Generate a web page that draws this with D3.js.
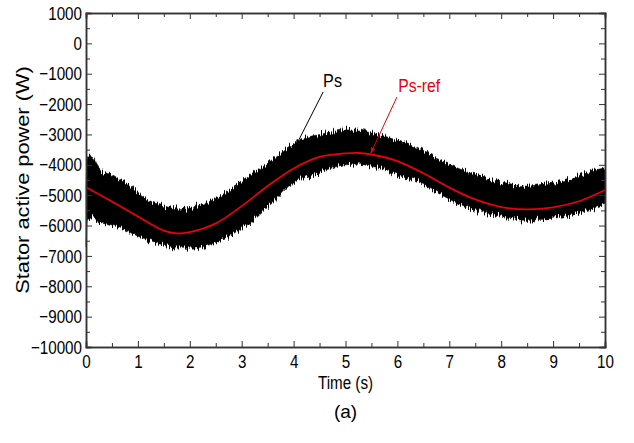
<!DOCTYPE html>
<html>
<head>
<meta charset="utf-8">
<script src="https://cdn.jsdelivr.net/npm/d3@7"></script>
<style>
  body { margin: 0; background: #fff; }
  svg text { font-family: "Liberation Sans", Arial, sans-serif; }
</style>
</head>
<body>
<svg id="chart" width="634" height="443"></svg>
<script>
const width = 634;
const height = 443;

// reference power Ps-ref (W)
const refTime = [0, 0.5, 1, 1.5, 1.75, 2, 2.5, 3, 3.5, 4, 4.5, 5, 5.25, 5.5, 6, 6.5, 7, 7.5, 8, 8.5, 9, 9.5, 10];
const refPower = [-4740, -5210, -5700, -6170, -6260, -6220, -5930, -5360, -4700, -4120, -3740, -3625, -3610, -3660, -3880, -4280, -4750, -5140, -5390, -5470, -5400, -5200, -4830];

// measured Ps: upper and lower edge of the noisy band (W)
const psTime = [0, 0.03, 0.12, 0.25, 0.5, 0.75, 1, 1.25, 1.5, 1.75, 2, 2.25, 2.5, 2.75, 3, 3.25, 3.5, 3.75, 4, 4.25, 4.5, 4.75, 5, 5.25, 5.5, 5.75, 6, 6.25, 6.5, 6.75, 7, 7.25, 7.5, 7.75, 8, 8.25, 8.5, 8.75, 9, 9.25, 9.5, 9.75, 10];
const psUpper = [-4700, -3700, -3750, -4100, -4350, -4600, -4900, -5200, -5350, -5450, -5400, -5300, -5100, -4850, -4550, -4250, -3950, -3600, -3300, -3100, -3000, -2900, -2850, -2850, -2950, -3050, -3200, -3350, -3550, -3780, -3980, -4170, -4330, -4460, -4560, -4650, -4700, -4650, -4600, -4500, -4350, -4200, -4100];
const psLower = [-6700, -5800, -5750, -5850, -5980, -6150, -6350, -6500, -6650, -6750, -6750, -6700, -6550, -6350, -6100, -5800, -5400, -5000, -4600, -4400, -4250, -4100, -4000, -3980, -4050, -4150, -4300, -4450, -4650, -4900, -5130, -5330, -5500, -5630, -5730, -5790, -5830, -5800, -5760, -5700, -5600, -5450, -5300];

const xTicks = [0, 1, 2, 3, 4, 5, 6, 7, 8, 9, 10];
const yTicks = [1000, 0, -1000, -2000, -3000, -4000, -5000, -6000, -7000, -8000, -9000, -10000];

const margin = { left: 86, right: 29, top: 13, bottom: 96 };
const squeeze = 0.8; // the figure's lettering is narrow and tall
const red = "#e8000b";

function drawChart() {
    const svg = d3.select("#chart");
    const x = d3.scaleLinear().domain([0, 10]).range([margin.left, width - margin.right]);
    const y = d3.scaleLinear().domain([-10000, 1000]).range([height - margin.bottom, margin.top]);

    const refData = refTime.map((t, i) => ({ t: t, v: refPower[i] }));
    const psData = psTime.map((t, i) => ({ t: t, hi: psUpper[i], lo: psLower[i] }));

    const defs = svg.append("defs");
    // roughen the edge of the Ps band so it looks like the dense ripple
    const rough = defs.append("filter").attr("id", "rough")
        .attr("x", "-2%").attr("y", "-15%").attr("width", "104%").attr("height", "130%");
    rough.append("feTurbulence").attr("type", "fractalNoise")
        .attr("baseFrequency", "0.75 0.03").attr("numOctaves", 2).attr("seed", 4).attr("result", "noise");
    rough.append("feColorMatrix").attr("in", "noise").attr("type", "matrix")
        .attr("values", "1 0 0 0 0  0 0 0 0 0.5  0 0 0 0 0  0 0 0 0 1").attr("result", "vnoise");
    rough.append("feDisplacementMap").attr("in", "SourceGraphic").attr("in2", "vnoise")
        .attr("scale", 14).attr("xChannelSelector", "G").attr("yChannelSelector", "R");

    // noisy Ps band
    const band = d3.area()
        .x(d => x(d.t))
        .y0(d => y(d.lo))
        .y1(d => y(d.hi))
        .curve(d3.curveMonotoneX);
    svg.append("path")
        .datum(psData)
        .attr("d", band)
        .attr("fill", "#000")
        .attr("stroke", "#000")
        .attr("stroke-width", 0.5)
        .attr("filter", "url(#rough)");

    // Ps-ref
    const line = d3.line()
        .x(d => x(d.t))
        .y(d => y(d.v))
        .curve(d3.curveCatmullRom);
    svg.append("path")
        .datum(refData)
        .attr("d", line)
        .attr("fill", "none")
        .attr("stroke", red)
        .attr("stroke-width", 1.8);

    // axes: ticks point inward on all four sides
    const minorX = d3.range(0.5, 10, 1);
    const minorY = d3.range(-9500, 1000, 1000);
    const axisColor = "#333";

    svg.append("g").attr("transform", `translate(0,${y(-10000)})`)
        .call(d3.axisBottom(x).tickValues(xTicks).tickSize(-6).tickPadding(8).tickFormat(d3.format("d")));
    svg.append("g").attr("transform", `translate(0,${y(-10000)})`)
        .call(d3.axisBottom(x).tickValues(minorX).tickSize(-4).tickFormat(""));
    svg.append("g").attr("transform", `translate(0,${y(1000)})`)
        .call(d3.axisTop(x).tickValues(xTicks).tickSize(-6).tickFormat(""));
    svg.append("g").attr("transform", `translate(0,${y(1000)})`)
        .call(d3.axisTop(x).tickValues(minorX).tickSize(-4).tickFormat(""));

    const left = svg.append("g").attr("transform", `translate(${x(0)},0)`)
        .call(d3.axisLeft(y).tickValues(yTicks).tickSize(-6).tickFormat(d3.format("d")));
    svg.append("g").attr("transform", `translate(${x(0)},0)`)
        .call(d3.axisLeft(y).tickValues(minorY).tickSize(-4).tickFormat(""));
    svg.append("g").attr("transform", `translate(${x(10)},0)`)
        .call(d3.axisRight(y).tickValues(yTicks).tickSize(-6).tickFormat(""));
    svg.append("g").attr("transform", `translate(${x(10)},0)`)
        .call(d3.axisRight(y).tickValues(minorY).tickSize(-4).tickFormat(""));

    svg.selectAll(".domain").attr("stroke", axisColor).attr("stroke-width", 1.5);
    svg.selectAll(".tick line").attr("stroke", axisColor).attr("stroke-width", 1);
    svg.selectAll(".tick text").attr("fill", "#000").attr("font-size", 19)
        .attr("font-family", "'Liberation Sans', Arial, sans-serif")
        .attr("transform", `scale(${squeeze},1)`);
    left.selectAll(".tick text").attr("x", -4 / squeeze);

    // axis titles
    svg.append("text")
        .attr("transform", `translate(${(x(0) + x(10)) / 2},389) scale(${squeeze},1)`)
        .attr("text-anchor", "middle")
        .attr("font-size", 19)
        .text("Time (s)");
    svg.append("text")
        .attr("transform", `translate(28.5,${(y(1000) + y(-10000)) / 2}) rotate(-90) scale(1.21,1)`)
        .attr("text-anchor", "middle")
        .attr("font-size", 18)
        .text("Stator active power (W)");

    // annotations
    [["arrowBlack", "#000"], ["arrowRed", red]].forEach(([id, c]) => {
        defs.append("marker").attr("id", id)
            .attr("viewBox", "0 0 10 10").attr("refX", 9).attr("refY", 5)
            .attr("markerWidth", 6).attr("markerHeight", 6).attr("orient", "auto")
            .append("path").attr("d", "M0,1L10,5L0,9Z").attr("fill", c);
    });
    svg.append("line")
        .attr("x1", x(4.57)).attr("y1", y(-1600))
        .attr("x2", x(4.05)).attr("y2", y(-3350))
        .attr("stroke", "#000").attr("stroke-width", 1)
        .attr("marker-end", "url(#arrowBlack)");
    svg.append("text")
        .attr("transform", `translate(${x(4.75)},${y(-1437)}) scale(0.85,1)`)
        .attr("text-anchor", "middle").attr("font-size", 19)
        .text("Ps");
    svg.append("line")
        .attr("x1", x(5.99)).attr("y1", y(-1770))
        .attr("x2", x(5.49)).attr("y2", y(-3610))
        .attr("stroke", red).attr("stroke-width", 1)
        .attr("marker-end", "url(#arrowRed)");
    svg.append("text")
        .attr("transform", `translate(${x(6.42)},${y(-1600)}) scale(0.83,1)`)
        .attr("text-anchor", "middle").attr("font-size", 19)
        .attr("fill", red)
        .text("Ps-ref");

    // panel caption
    svg.append("text")
        .attr("x", (x(0) + x(10)) / 2)
        .attr("y", 418)
        .attr("text-anchor", "middle")
        .attr("font-size", 19)
        .attr("font-family", "'Liberation Serif', 'Times New Roman', serif")
        .text("(a)");
}

document.addEventListener("DOMContentLoaded", () => {
    drawChart();
});
</script>
</body>
</html>
